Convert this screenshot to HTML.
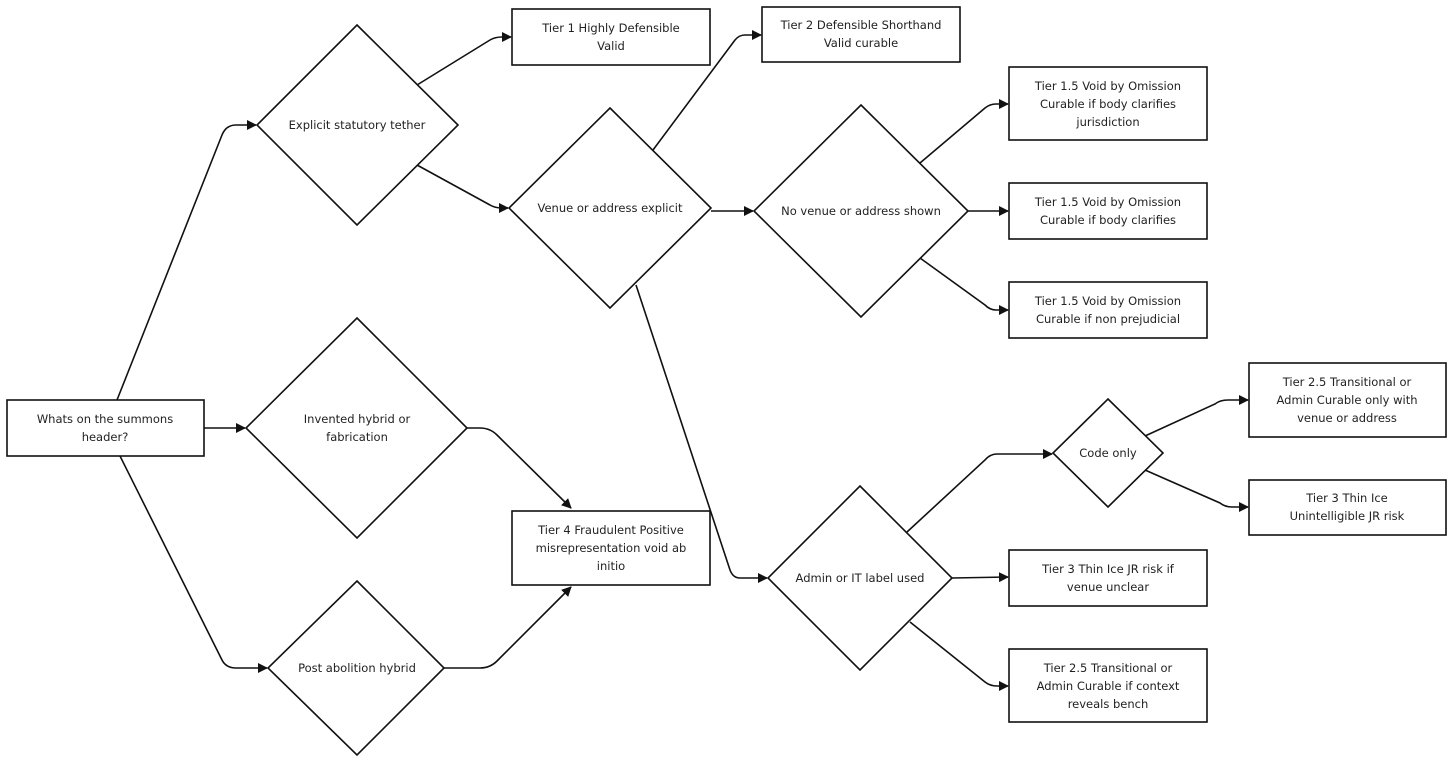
<!DOCTYPE html>
<html><head><meta charset="utf-8"><style>
html,body{margin:0;padding:0;background:#fff;}
svg text{font-family:"DejaVu Sans","Liberation Sans",sans-serif;font-size:11.5px;fill:#222;text-anchor:middle;}
</style></head><body>
<svg width="1456" height="765" viewBox="0 0 1456 765" xmlns="http://www.w3.org/2000/svg">
<defs><marker id="a" viewBox="0 0 10 10" refX="9" refY="5" markerWidth="10" markerHeight="10" markerUnits="userSpaceOnUse" orient="auto"><path d="M0,0 L10,5 L0,10 z" fill="#111"/></marker></defs>
<g fill="none" stroke="#111" stroke-width="1.6" marker-end="url(#a)">
<path d="M117,400 L222,135 Q226,125 236,125 L256,125"/>
<path d="M204,428 L245,428"/>
<path d="M120,456 L222,660 Q226,668 236,668 L267,668"/>
<path d="M417,85 L490,40 Q495,37 502,37 L511,37"/>
<path d="M417,165 L490,205 Q495,208 502,208 L508,208"/>
<path d="M467,428 L480,428 Q490,428 497,435 L571,508"/>
<path d="M444,668 L480,668 Q490,668 497,661 L571,587"/>
<path d="M653,150 L735,40 Q739,35 745,35 L761,35"/>
<path d="M711,211 L753,211"/>
<path d="M636,285 L730,570 Q733,578 740,578 L767,578"/>
<path d="M920,163 L985,108 Q990,104 996,104 L1008,104"/>
<path d="M968,211 L1008,211"/>
<path d="M920,258 L985,305 Q990,310 996,310 L1008,310"/>
<path d="M907,532 L985,460 Q990,454 997,454 L1052,454"/>
<path d="M952,578 L1008,577"/>
<path d="M910,622 L985,682 Q990,686 997,686 L1008,686"/>
<path d="M1145,436 L1215,404 Q1220,400 1228,400 L1248,400"/>
<path d="M1145,470 L1220,503 Q1225,507 1232,507 L1248,507"/>
</g>
<g fill="#fff" stroke="#111" stroke-width="1.6">
<rect x="7" y="400" width="197" height="56"/>
<polygon points="357,25 458,125 357,225 257,125"/>
<polygon points="357,318 467,428 357,538 246,428"/>
<polygon points="357,581 444,668 357,755 268,668"/>
<rect x="512" y="9" width="198" height="56"/>
<rect x="512" y="511" width="198" height="74"/>
<polygon points="610,108 711,208 610,308 509,208"/>
<rect x="762" y="7" width="198" height="55"/>
<polygon points="861,105 968,211 861,317 754,211"/>
<rect x="1009" y="67" width="198" height="73"/>
<rect x="1009" y="183" width="198" height="56"/>
<rect x="1009" y="282" width="198" height="56"/>
<polygon points="860,486 952,578 860,670 768,578"/>
<polygon points="1108,399 1163,453 1108,507 1053,453"/>
<rect x="1249" y="363" width="197" height="74"/>
<rect x="1249" y="480" width="197" height="55"/>
<rect x="1009" y="550" width="198" height="56"/>
<rect x="1009" y="649" width="198" height="73"/>
</g>
<text x="105" y="423">Whats on the summons</text><text x="105" y="441">header?</text>
<text x="357" y="129">Explicit statutory tether</text>
<text x="357" y="423">Invented hybrid or</text><text x="357" y="441">fabrication</text>
<text x="357" y="672">Post abolition hybrid</text>
<text x="611" y="32">Tier 1 Highly Defensible</text><text x="611" y="50">Valid</text>
<text x="611" y="534">Tier 4 Fraudulent Positive</text><text x="611" y="552">misrepresentation void ab</text><text x="611" y="570">initio</text>
<text x="610" y="212">Venue or address explicit</text>
<text x="861" y="29">Tier 2 Defensible Shorthand</text><text x="861" y="47">Valid curable</text>
<text x="861" y="215">No venue or address shown</text>
<text x="1108" y="90">Tier 1.5 Void by Omission</text><text x="1108" y="108">Curable if body clarifies</text><text x="1108" y="126">jurisdiction</text>
<text x="1108" y="206">Tier 1.5 Void by Omission</text><text x="1108" y="224">Curable if body clarifies</text>
<text x="1108" y="305">Tier 1.5 Void by Omission</text><text x="1108" y="323">Curable if non prejudicial</text>
<text x="860" y="582">Admin or IT label used</text>
<text x="1108" y="457">Code only</text>
<text x="1347" y="386">Tier 2.5 Transitional or</text><text x="1347" y="404">Admin Curable only with</text><text x="1347" y="422">venue or address</text>
<text x="1347" y="502">Tier 3 Thin Ice</text><text x="1347" y="520">Unintelligible JR risk</text>
<text x="1108" y="573">Tier 3 Thin Ice JR risk if</text><text x="1108" y="591">venue unclear</text>
<text x="1108" y="672">Tier 2.5 Transitional or</text><text x="1108" y="690">Admin Curable if context</text><text x="1108" y="708">reveals bench</text>
</svg>
</body></html>
